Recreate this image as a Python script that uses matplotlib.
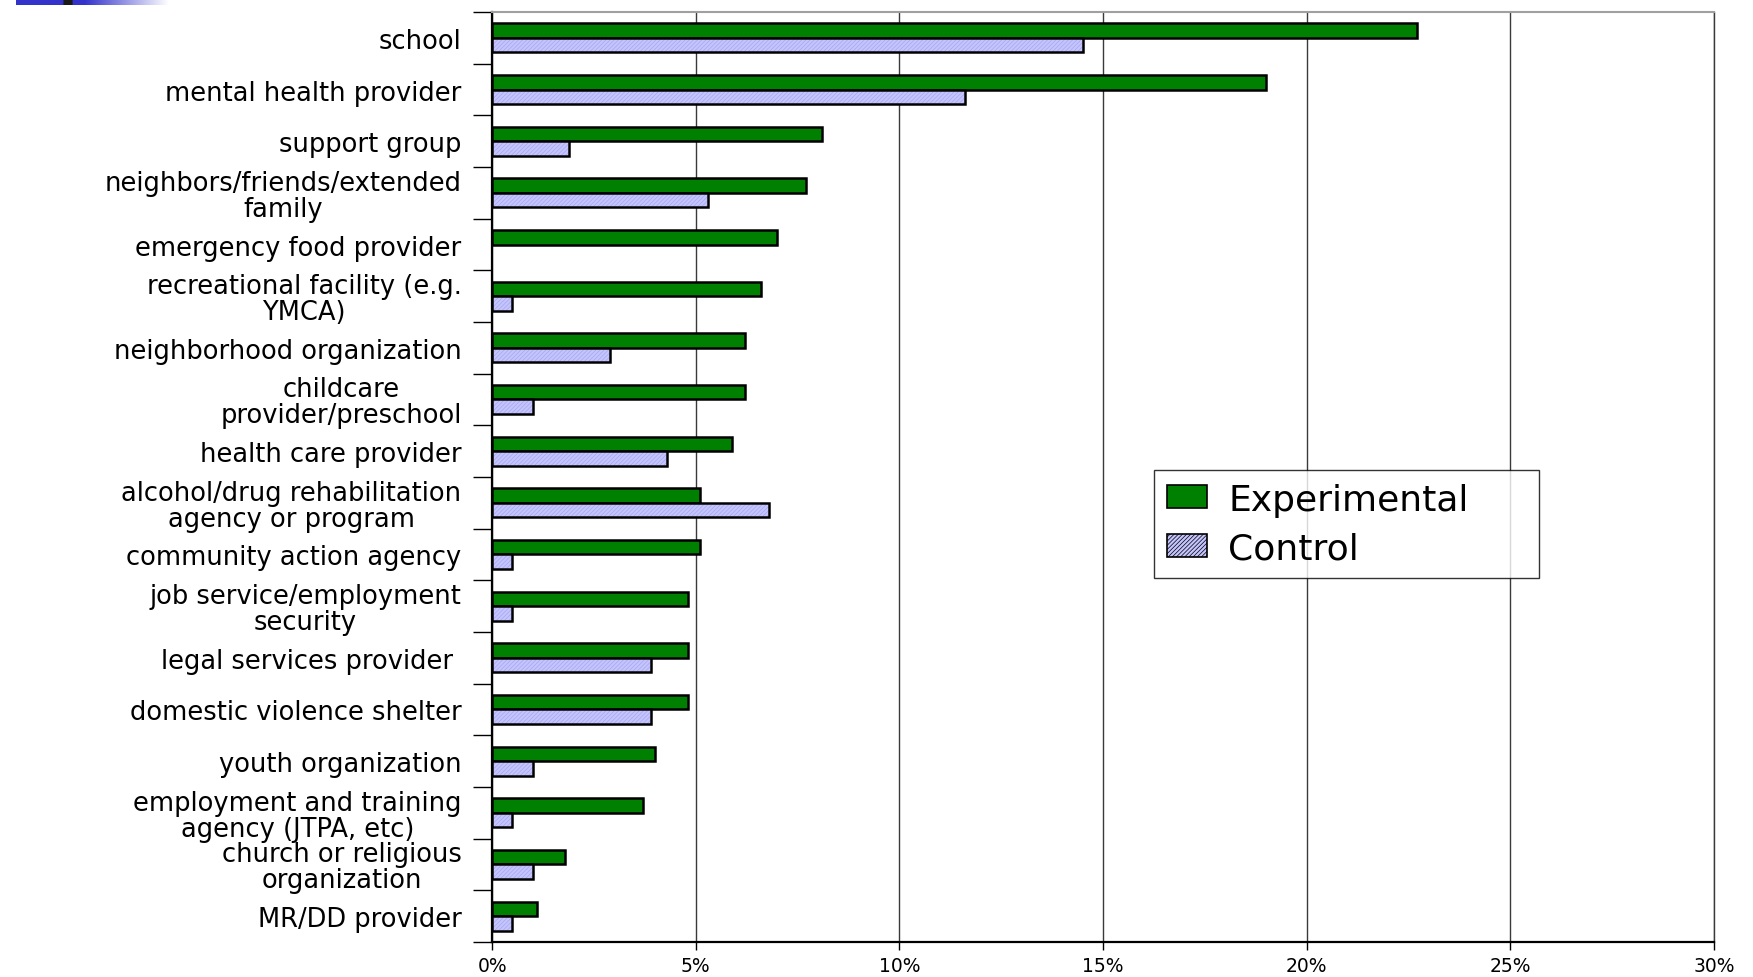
import numpy as np
import matplotlib
matplotlib.use('Agg')
from matplotlib import pyplot as plt
from matplotlib.ticker import FixedLocator, FuncFormatter

# service sources, % of respondents who used each one
categories = ['school', 'mental health provider', 'support group',
              'neighbors/friends/extended\nfamily', 'emergency food provider',
              'recreational facility (e.g.\nYMCA)', 'neighborhood organization',
              'childcare\nprovider/preschool', 'health care provider',
              'alcohol/drug rehabilitation\nagency or program', 'community action agency',
              'job service/employment\nsecurity', 'legal services provider ',
              'domestic violence shelter', 'youth organization',
              'employment and training\nagency (JTPA, etc)', 'church or religious\norganization',
              'MR/DD provider']
experimental = [22.7, 19.0, 8.1, 7.7, 7.0, 6.6, 6.2, 6.2, 5.9, 5.1, 5.1, 4.8, 4.8, 4.8, 4.0, 3.7, 1.8, 1.1]
control = [14.5, 11.6, 1.9, 5.3, 0.0, 0.5, 2.9, 1.0, 4.3, 6.8, 0.5, 0.5, 3.9, 3.9, 1.0, 0.5, 1.0, 0.5]
x_ticks = [0, 5, 10, 15, 20, 25, 30]

plt.rcParams['font.family'] = ['DejaVu Sans']
plt.rcParams['hatch.linewidth'] = 0.5

fig = plt.figure(figsize=(17.53, 9.78), dpi=100)
ax = fig.add_axes([0.2807, 0.0358, 0.6970, 0.9509])

# small blue strip in the top left corner of the slide
strip = fig.add_axes([0.009, 0.9939, 0.087, 0.0061])
grad = np.ones((1, 200, 3))
t = np.linspace(0, 1, 200)
fade = np.clip((t - 0.45) / 0.55, 0, 1)
base = np.array([0.2, 0.2, 0.8])
for k in range(3):
    grad[0, :, k] = base[k] + (1 - base[k]) * fade
grad[0, 62:74, :] = 0.1
strip.imshow(grad, aspect='auto', extent=[0, 1, 0, 1])
strip.axis('off')

y = np.arange(len(categories))
h = 0.28
green = '#008000'
lav = '#C4C4FF'
hatch_col = '#A6A6EC'

ax.barh(y - h / 2, experimental, height=h, color=green, edgecolor='black', linewidth=1.8, zorder=3,
        label='Experimental')
ax.barh(y + h / 2, control, height=h, color=lav, edgecolor=hatch_col, hatch='////////', linewidth=0,
        zorder=3)
outlines = ax.barh(y + h / 2, control, height=h, fill=False, edgecolor='black', linewidth=1.8, zorder=4)
for bar, v in zip(outlines, control):
    if v == 0:
        bar.set_visible(False)
# legend proxy for the hatched bars
ax.barh([0], [0], height=0, color=lav, edgecolor=hatch_col, hatch='////////', label='Control')

ax.set_ylim(len(categories) - 0.5, -0.5)
ax.set_xlim(0, 30)

ax.set_yticks(y)
ax.set_yticklabels(categories, fontsize=18.5, multialignment='center', linespacing=1.0)
ax.yaxis.set_minor_locator(FixedLocator(np.arange(-0.5, len(categories) + 0.5, 1)))
ax.tick_params(axis='y', which='major', length=0, pad=22)
ax.tick_params(axis='y', which='minor', length=14, width=1, color='black')

ax.set_xticks(x_ticks)
ax.xaxis.set_major_formatter(FuncFormatter(lambda v, p: '%d%%' % v))
ax.tick_params(axis='x', length=6, width=1, labelsize=13.5, pad=4)

ax.grid(axis='x', color='#3a3a3a', linewidth=1, zorder=1)
ax.spines['left'].set_linewidth(1.6)
ax.spines['bottom'].set_linewidth(1.6)
ax.spines['top'].set_color('#a0a0a0')
ax.spines['top'].set_linewidth(1.5)
ax.spines['right'].set_color('#3a3a3a')
ax.spines['right'].set_linewidth(1)

handles, labels = ax.get_legend_handles_labels()
leg = ax.legend(handles, labels, loc='upper left', bbox_to_anchor=(0.542, 0.3946, 0.3148, 0.1129),
                mode='expand', fontsize=26, frameon=True, fancybox=False, edgecolor='black',
                handlelength=1.1, handleheight=0.6, handletextpad=0.6, borderpad=0.35,
                labelspacing=0.4, borderaxespad=0)
leg.get_frame().set_linewidth(1)
for p in leg.get_patches():
    p.set_edgecolor('black')
    p.set_linewidth(1.2)

fig.savefig('out.png', dpi=100)
